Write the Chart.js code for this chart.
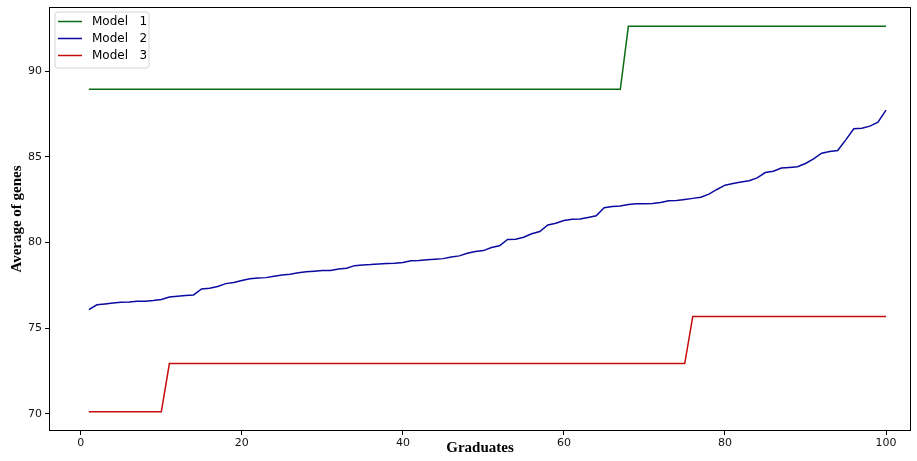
<!DOCTYPE html>
<html>
<head>
<meta charset="utf-8">
<script src="https://cdn.jsdelivr.net/npm/chart.js@4.4.1/dist/chart.umd.min.js"></script>
<style>
  html, body { margin: 0; padding: 0; background: #fff; }
  #wrap { width: 917px; height: 461px; }
</style>
</head>
<body>
<div id="wrap"><canvas id="chart" width="917" height="461"></canvas></div>
<script>
// x positions (graduates)
const graduates = [
  1, 2, 3, 4, 5, 6, 7, 8, 9, 10, 11, 12, 13, 14, 15, 16, 17, 18, 19, 20,
  21, 22, 23, 24, 25, 26, 27, 28, 29, 30, 31, 32, 33, 34, 35, 36, 37, 38, 39, 40,
  41, 42, 43, 44, 45, 46, 47, 48, 49, 50, 51, 52, 53, 54, 55, 56, 57, 58, 59, 60,
  61, 62, 63, 64, 65, 66, 67, 68, 69, 70, 71, 72, 73, 74, 75, 76, 77, 78, 79, 80,
  81, 82, 83, 84, 85, 86, 87, 88, 89, 90, 91, 92, 93, 94, 95, 96, 97, 98, 99, 100
];

const model1 = [
  88.95, 88.95, 88.95, 88.95, 88.95, 88.95, 88.95, 88.95, 88.95, 88.95, 88.95, 88.95, 88.95, 88.95, 88.95, 88.95, 88.95, 88.95, 88.95, 88.95,
  88.95, 88.95, 88.95, 88.95, 88.95, 88.95, 88.95, 88.95, 88.95, 88.95, 88.95, 88.95, 88.95, 88.95, 88.95, 88.95, 88.95, 88.95, 88.95, 88.95,
  88.95, 88.95, 88.95, 88.95, 88.95, 88.95, 88.95, 88.95, 88.95, 88.95, 88.95, 88.95, 88.95, 88.95, 88.95, 88.95, 88.95, 88.95, 88.95, 88.95,
  88.95, 88.95, 88.95, 88.95, 88.95, 88.95, 88.95, 92.63, 92.63, 92.63, 92.63, 92.63, 92.63, 92.63, 92.63, 92.63, 92.63, 92.63, 92.63, 92.63,
  92.63, 92.63, 92.63, 92.63, 92.63, 92.63, 92.63, 92.63, 92.63, 92.63, 92.63, 92.63, 92.63, 92.63, 92.63, 92.63, 92.63, 92.63, 92.63, 92.63
];

const model2 = [
  76.08, 76.36, 76.41, 76.47, 76.51, 76.53, 76.57, 76.57, 76.61, 76.67,
  76.82, 76.86, 76.90, 76.94, 77.29, 77.33, 77.43, 77.60, 77.66, 77.78,
  77.89, 77.93, 77.95, 78.03, 78.11, 78.15, 78.23, 78.29, 78.32, 78.36,
  78.37, 78.46, 78.50, 78.65, 78.69, 78.71, 78.75, 78.77, 78.79, 78.83,
  78.93, 78.95, 79.00, 79.03, 79.06, 79.16, 79.22, 79.37, 79.47, 79.53,
  79.71, 79.81, 80.18, 80.19, 80.31, 80.51, 80.64, 81.03, 81.13, 81.29,
  81.36, 81.37, 81.46, 81.56, 82.03, 82.11, 82.13, 82.22, 82.26, 82.26,
  82.28, 82.34, 82.44, 82.45, 82.51, 82.58, 82.65, 82.83, 83.10, 83.35,
  83.45, 83.53, 83.61, 83.78, 84.09, 84.17, 84.35, 84.39, 84.43, 84.62,
  84.89, 85.22, 85.32, 85.38, 86.00, 86.65, 86.68, 86.80, 87.03, 87.74
];

const model3 = [
  70.12, 70.12, 70.12, 70.12, 70.12, 70.12, 70.12, 70.12, 70.12, 70.12, 72.93, 72.93, 72.93, 72.93, 72.93, 72.93, 72.93, 72.93, 72.93, 72.93,
  72.93, 72.93, 72.93, 72.93, 72.93, 72.93, 72.93, 72.93, 72.93, 72.93, 72.93, 72.93, 72.93, 72.93, 72.93, 72.93, 72.93, 72.93, 72.93, 72.93,
  72.93, 72.93, 72.93, 72.93, 72.93, 72.93, 72.93, 72.93, 72.93, 72.93, 72.93, 72.93, 72.93, 72.93, 72.93, 72.93, 72.93, 72.93, 72.93, 72.93,
  72.93, 72.93, 72.93, 72.93, 72.93, 72.93, 72.93, 72.93, 72.93, 72.93, 72.93, 72.93, 72.93, 72.93, 72.93, 75.68, 75.68, 75.68, 75.68, 75.68,
  75.68, 75.68, 75.68, 75.68, 75.68, 75.68, 75.68, 75.68, 75.68, 75.68, 75.68, 75.68, 75.68, 75.68, 75.68, 75.68, 75.68, 75.68, 75.68, 75.68
];

const seriesNames = ['Model   1', 'Model   2', 'Model   3'];
const seriesColors = ['#0b6b12', '#0a0aa0', '#c40c0c'];

function toPoints(values) {
  return values.map((v, i) => ({ x: graduates[i], y: v }));
}

// frame around the plot + legend box inside the plot (matplotlib look)
const framePlugin = {
  id: 'frame',
  afterDraw(chart) {
    const { ctx, chartArea: a } = chart;
    ctx.save();
    ctx.strokeStyle = '#000';
    ctx.lineWidth = 1;
    ctx.strokeRect(a.left + 0.5, a.top + 0.5, a.right - a.left - 1, a.bottom - a.top - 1);

    // legend
    const x0 = a.left + 6, y0 = a.top + 5, w = 94, h = 56, r = 3;
    ctx.beginPath();
    ctx.moveTo(x0 + r, y0);
    ctx.arcTo(x0 + w, y0, x0 + w, y0 + h, r);
    ctx.arcTo(x0 + w, y0 + h, x0, y0 + h, r);
    ctx.arcTo(x0, y0 + h, x0, y0, r);
    ctx.arcTo(x0, y0, x0 + w, y0, r);
    ctx.closePath();
    ctx.fillStyle = 'rgba(255,255,255,0.8)';
    ctx.fill();
    ctx.strokeStyle = '#d4d4d4';
    ctx.stroke();

    ctx.font = '12px "DejaVu Sans"';
    ctx.textBaseline = 'middle';
    ctx.fillStyle = '#000';
    chart.data.datasets.forEach((ds, i) => {
      const y = y0 + 9.5 + i * 17;
      ctx.beginPath();
      ctx.strokeStyle = ds.borderColor;
      ctx.lineWidth = 1.5;
      ctx.moveTo(x0 + 3, y);
      ctx.lineTo(x0 + 27, y);
      ctx.stroke();
      ctx.fillText(ds.label, x0 + 37, y);
    });
    ctx.restore();
  }
};

const tickFont = { family: 'DejaVu Sans', size: 11 };
const titleFont = { family: 'Liberation Serif', size: 15, weight: 'bold' };

new Chart(document.getElementById('chart'), {
  type: 'line',
  data: {
    datasets: [model1, model2, model3].map((vals, i) => ({
      label: seriesNames[i],
      data: toPoints(vals),
      borderColor: seriesColors[i],
      backgroundColor: seriesColors[i],
      borderWidth: 1.5,
      pointRadius: 0,
      tension: 0,
      fill: false
    }))
  },
  options: {
    responsive: false,
    animation: false,
    devicePixelRatio: 1,
    layout: { padding: { left: 0, top: 7, right: 6, bottom: 0 } },
    plugins: {
      legend: { display: false },
      tooltip: { enabled: false }
    },
    scales: {
      x: {
        type: 'linear',
        min: -3.95,
        max: 103.1,
        border: { display: false },
        grid: { drawOnChartArea: false, drawTicks: true, tickLength: 4, color: '#000' },
        ticks: { stepSize: 20, includeBounds: false, font: tickFont, color: '#111', padding: 2, maxRotation: 0 },
        title: { display: true, text: 'Graduates', font: titleFont, color: '#000', padding: { top: 0, bottom: 4 } },
        afterFit(scale) { scale.height = 30; scale.paddingLeft = 0; scale.paddingRight = 0; }
      },
      y: {
        min: 68.99,
        max: 93.76,
        border: { display: false },
        grid: { drawOnChartArea: false, drawTicks: true, tickLength: 4, color: '#000' },
        ticks: { stepSize: 5, includeBounds: false, font: tickFont, color: '#111', padding: 3 },
        title: { display: true, text: 'Average of genes', font: titleFont, color: '#000', padding: { top: 8, bottom: 0 } },
        afterFit(scale) { scale.width = 49; scale.paddingTop = 0; scale.paddingBottom = 0; }
      }
    }
  },
  plugins: [framePlugin]
});
</script>
</body>
</html>
